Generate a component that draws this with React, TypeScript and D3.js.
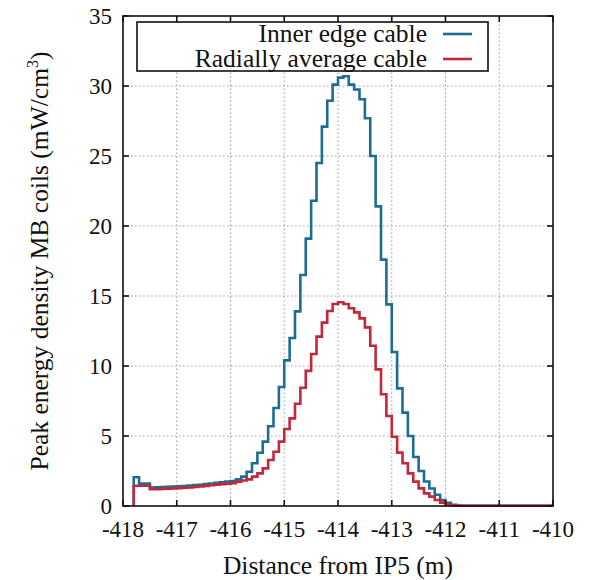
import { useEffect } from "react";
import * as d3 from "d3";

// histogram bins: 0.1 m wide, starting at -417.8 m
const binStart = -417.8;
const binWidth = 0.1;

const innerEdge = [
  2.05, 1.6, 1.6, 1.32, 1.33, 1.35, 1.37, 1.39, 1.41, 1.43,
  1.46, 1.49, 1.52, 1.56, 1.6, 1.65, 1.7, 1.75, 1.79, 1.9,
  2.1, 2.45, 3.05, 3.8, 4.6, 5.7, 7.0, 8.5, 10.4, 12.0,
  13.9, 16.5, 19.1, 21.8, 24.5, 27.1, 28.95, 30.1, 30.6, 30.7,
  30.1, 29.75, 29.05, 27.7, 25.0, 21.4, 17.6, 14.4, 11.0, 8.4,
  6.67, 5.0, 3.5, 2.5, 1.75, 1.25, 0.8, 0.43, 0.22, 0.08,
  0.03, 0.02, 0.02, 0.02, 0.02, 0.02, 0.02, 0.02, 0.02, 0.02,
  0.02, 0.02, 0.02, 0.02, 0.02, 0.02, 0.02, 0.02,
];

const radialAverage = [
  1.45, 1.45, 1.45, 1.2, 1.2, 1.22, 1.24, 1.26, 1.28, 1.3,
  1.33, 1.36, 1.4, 1.44, 1.48, 1.52, 1.56, 1.6, 1.62, 1.74,
  1.82, 1.9, 2.1, 2.33, 2.69, 3.29, 3.88, 4.6, 5.5, 6.26,
  7.3, 8.45, 9.65, 10.86, 12.1, 13.1, 13.93, 14.43, 14.55, 14.43,
  14.12, 13.83, 13.4, 12.76, 11.45, 9.76, 7.98, 6.43, 4.95, 3.81,
  3.05, 2.33, 1.74, 1.26, 0.9, 0.67, 0.43, 0.24, 0.1, 0.05,
  0.02, 0.02, 0.02, 0.02, 0.02, 0.02, 0.02, 0.02, 0.02, 0.02,
  0.02, 0.02, 0.02, 0.02, 0.02, 0.02, 0.02, 0.02,
];

const xTicks = [-418, -417, -416, -415, -414, -413, -412, -411, -410];
const yTicks = [0, 5, 10, 15, 20, 25, 30, 35];

const series = [
  { name: "Inner edge cable", values: innerEdge, color: "#1d6d93" },
  { name: "Radially average cable", values: radialAverage, color: "#c3283a" },
];

const W = 591;
const H = 580;
const margin = { left: 123, right: 38, top: 16, bottom: 74 };
const ink = "#111";
const txt = { fontFamily: "'Liberation Serif'" };
const tickSize = 23;
const titleSize = 25.5;

export default function App() {
  useEffect(() => {
    document.body.style.margin = "0";
  }, []);

  const x = d3.scaleLinear().domain([-418, -410]).range([margin.left, W - margin.right]);
  const y = d3.scaleLinear().domain([0, 35]).range([H - margin.bottom, margin.top]);
  const [x0, x1] = x.range();
  const [y0, y1] = y.range();

  const line = d3
    .line<[number, number]>()
    .x((d) => x(d[0]))
    .y((d) => y(d[1]))
    .curve(d3.curveStepAfter);

  const stepPath = (values: number[]) => {
    const pts: [number, number][] = [[binStart, 0]];
    values.forEach((v, i) => pts.push([binStart + i * binWidth, v]));
    pts.push([binStart + values.length * binWidth, values[values.length - 1]]);
    return line(pts) || "";
  };

  const tl = 6;

  return (
    <svg width={W} height={H} style={{ display: "block" }}>
      <rect width={W} height={H} fill="#fff" />

      {/* grid */}
      <g stroke="#9a9a9a" strokeWidth={1} strokeDasharray="1.5,2.5">
        {xTicks.slice(1, -1).map((t) => (
          <line key={"gx" + t} x1={x(t)} x2={x(t)} y1={y0} y2={y1} />
        ))}
        {yTicks.slice(1, -1).map((t) => (
          <line key={"gy" + t} x1={x0} x2={x1} y1={y(t)} y2={y(t)} />
        ))}
      </g>

      {/* histograms */}
      {series.map((s) => (
        <path key={s.name} d={stepPath(s.values)} fill="none" stroke={s.color} strokeWidth={2.6} />
      ))}

      {/* frame and ticks */}
      <g stroke={ink} strokeWidth={1.6}>
        <rect x={x0} y={y1} width={x1 - x0} height={y0 - y1} fill="none" />
        {xTicks.map((t) => (
          <g key={"tx" + t}>
            <line x1={x(t)} x2={x(t)} y1={y0} y2={y0 - tl} />
            <line x1={x(t)} x2={x(t)} y1={y1} y2={y1 + tl} />
          </g>
        ))}
        {yTicks.map((t) => (
          <g key={"ty" + t}>
            <line x1={x0} x2={x0 + tl} y1={y(t)} y2={y(t)} />
            <line x1={x1} x2={x1 - tl} y1={y(t)} y2={y(t)} />
          </g>
        ))}
      </g>

      {/* tick labels */}
      {xTicks.map((t) => (
        <text key={"lx" + t} style={txt} x={x(t)} y={y0 + 31} textAnchor="middle" fontSize={tickSize} fill={ink}>
          {t}
        </text>
      ))}
      {yTicks.map((t) => (
        <text key={"ly" + t} style={txt} x={x0 - 11} y={y(t) + 8} textAnchor="end" fontSize={tickSize} fill={ink}>
          {t}
        </text>
      ))}

      {/* axis titles */}
      <text style={txt} x={(x0 + x1) / 2} y={H - 6} textAnchor="middle" fontSize={titleSize} fill={ink}>
        Distance from IP5 (m)
      </text>
      <text
        style={txt}
        transform={`translate(48,${(y0 + y1) / 2}) rotate(-90)`}
        textAnchor="middle"
        fontSize={titleSize}
        fill={ink}
      >
        Peak energy density MB coils (mW/cm
        <tspan dy={-10} fontSize={16}>3</tspan>
        <tspan dy={10}>)</tspan>
      </text>

      {/* legend */}
      <rect x={137} y={22} width={351} height={49} fill="#fff" stroke={ink} strokeWidth={1.6} />
      {series.map((s, i) => {
        const ly = 34 + i * 25;
        return (
          <g key={"lg" + s.name}>
            <text style={txt} x={427} y={ly + 8} textAnchor="end" fontSize={titleSize} fill={ink}>
              {s.name}
            </text>
            <line x1={443} x2={472} y1={ly} y2={ly} stroke={s.color} strokeWidth={2.6} />
          </g>
        );
      })}
    </svg>
  );
}
